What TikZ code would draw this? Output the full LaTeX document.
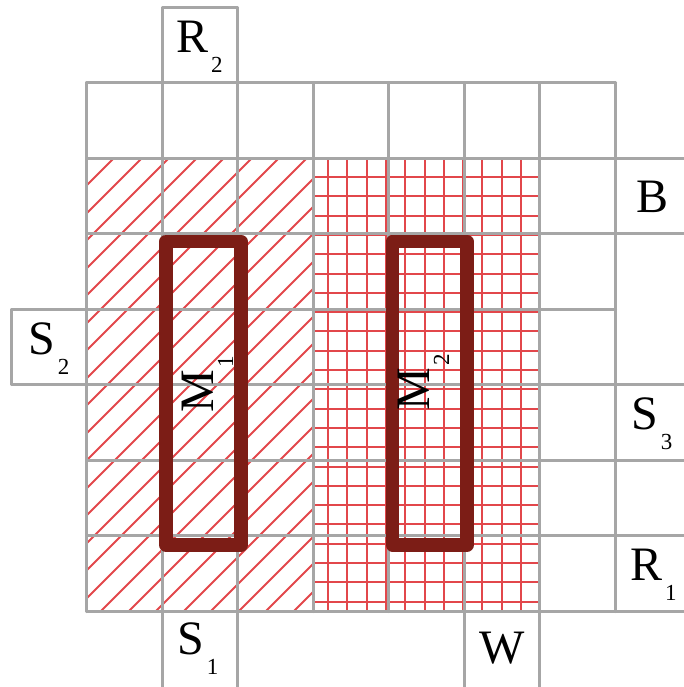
\documentclass[tikz,border=0pt]{standalone}
\usepackage{fontspec}
\setmainfont{Liberation Serif}
\definecolor{gridgray}{HTML}{A6A6A6}
\definecolor{hatchred}{HTML}{E2474B}
\definecolor{mbrown}{HTML}{7C1D16}
\newcommand\labsub[2]{#1\kern3pt\raisebox{-20pt}{\fontsize{23}{23}\selectfont #2}}
\tikzset{
  cellline/.style={draw=gridgray, line width=3pt, line cap=round, line join=round},
  hatchline/.style={draw=hatchred, line width=2pt},
  mrect/.style={draw=mbrown, line width=13.5pt, line join=round},
  lab/.style={inner sep=0pt, anchor=base west, font=\fontsize{48}{48}\selectfont}
}
\begin{document}
\begin{tikzpicture}[x=1pt,y=-1pt]
\useasboundingbox (0,0) rectangle (684,687);
\clip (0,0) rectangle (684,687);
% diagonal hatching
\begin{scope}
  \clip (86.5,158.5) rectangle (313.5,611.5);
  \foreach \k in {-8,...,19} {
    \pgfmathsetmacro\c{round(437+27.5*\k)}
    \draw[hatchline] (\c,0) -- ({\c-700},700);
  }
\end{scope}
% grid hatching
\begin{scope}
  \clip (313.5,158.5) rectangle (539.5,611.5);
  \foreach \k in {-1,...,12} {
    \pgfmathsetmacro\xx{round(328+19.3*\k)}
    \draw[hatchline] (\xx,150) -- (\xx,620);
  }
  \foreach \k in {-1,...,24} {
    \pgfmathsetmacro\yy{round(177+19.3*\k)}
    \draw[hatchline] (300,\yy) -- (550,\yy);
  }
\end{scope}
% horizontal cell lines
\draw[cellline] (162.5,7.5) -- (237.5,7.5);
\draw[cellline] (86.5,82.5) -- (615.5,82.5);
\draw[cellline] (86.5,158.5) -- (700,158.5);
\draw[cellline] (86.5,233.5) -- (700,233.5);
\draw[cellline] (11.5,309.5) -- (615.5,309.5);
\draw[cellline] (11.5,384.5) -- (700,384.5);
\draw[cellline] (86.5,460.5) -- (700,460.5);
\draw[cellline] (86.5,535.5) -- (700,535.5);
\draw[cellline] (86.5,611.5) -- (700,611.5);
% vertical cell lines
\draw[cellline] (11.5,309.5) -- (11.5,384.5);
\draw[cellline] (86.5,82.5) -- (86.5,611.5);
\draw[cellline] (162.5,7.5) -- (162.5,700);
\draw[cellline] (237.5,7.5) -- (237.5,700);
\draw[cellline] (313.5,82.5) -- (313.5,611.5);
\draw[cellline] (388.5,82.5) -- (388.5,611.5);
\draw[cellline] (464.5,82.5) -- (464.5,700);
\draw[cellline] (539.5,82.5) -- (539.5,700);
\draw[cellline] (615.5,82.5) -- (615.5,611.5);
% M rectangles
\draw[mrect] (166,241.5) rectangle (241,545);
\draw[mrect] (392.5,241.5) rectangle (467,545);
% labels
\node[lab] (R2) at (176,53) {\labsub{R}{2}};
\node[lab] (S2) at (28,354) {\labsub{S}{2}};
\node[lab] (S1) at (177,654) {\labsub{S}{1}};
\node[lab] (W) at (479,663) {W};
\node[lab] (B) at (636,212) {B};
\node[lab] (S3) at (631,429) {\labsub{S}{3}};
\node[lab] (R1) at (630,580) {\labsub{R}{1}};
\node[lab, rotate=90] (M1) at (213,413) {\labsub{M}{1}};
\node[lab, rotate=90] (M2) at (429,411) {\labsub{M}{2}};
\end{tikzpicture}
\end{document}
